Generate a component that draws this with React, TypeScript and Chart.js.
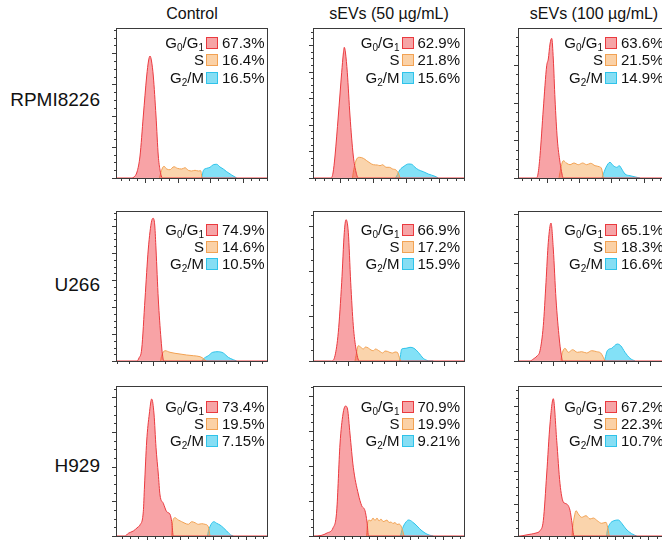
import React, { useEffect, useRef } from 'react';
import { Chart, registerables } from 'chart.js';

Chart.register(...registerables);

type Pt = [number, number];

// ---------- text ----------
const columnTitles = ['Control', 'sEVs (50 µg/mL)', 'sEVs (100 µg/mL)'];
const rowLabels = ['RPMI8226', 'U266', 'H929'];

// ---------- percentages (G0/G1, S, G2/M) ----------
const rpmiPct = [[67.3, 16.4, 16.5], [62.9, 21.8, 15.6], [63.6, 21.5, 14.9]];
const u266Pct = [[74.9, 14.6, 10.5], [66.9, 17.2, 15.9], [65.1, 18.3, 16.6]];
const h929Pct = [[73.4, 19.5, 7.15], [70.9, 19.9, 9.21], [67.2, 22.3, 10.7]];

// ---------- histogram curves [DNA channel, count] ----------
// RPMI8226
const rpmiControlG1: Pt[] = [[0,0],[16,0],[18,1],[21,6],[24,22],[27.3,62],[30.7,102],[32.5,117],[34,122],[35.5,117],[37.3,102],[40,62],[42.3,22],[44,8],[45.7,1],[47,0],[152,0]];
const rpmiControlS: Pt[] = [[43.5,0],[45,6],[47,11],[48,11.7],[50.7,9],[54,8.3],[56,10],[58,11.3],[61.3,9.7],[65.7,9],[69,10.3],[72.3,7.7],[75.7,7],[79,7.7],[82.3,7],[84.7,7.3],[85.5,3],[86,0]];
const rpmiControlG2M: Pt[] = [[85.5,0],[86.5,4],[87.3,7.3],[90.7,9.7],[94,10.7],[97.3,13.3],[100.7,13.7],[104,11],[107.3,9],[110.7,6.3],[115.7,3],[120.7,0]];

const rpmi50G1: Pt[] = [[0,0],[18,0],[20,5],[22,22],[25.3,62],[28.7,105.7],[30.3,124],[31.3,130.7],[32.5,125],[34.3,105.7],[37,62],[40.3,22],[43,6],[45.3,0],[152,0]];
const rpmi50S: Pt[] = [[39.5,0],[40.3,5.7],[42,14],[43.7,19],[46.3,20.7],[50.3,19.7],[53.7,17.3],[57,15],[60.3,13.3],[64.3,13],[67,12.3],[69.7,13.3],[73,10.7],[76.3,10.7],[79.7,9],[83,8],[85.7,4],[87,0]];
const rpmi50G2M: Pt[] = [[82.5,0],[83.7,2],[87,8.3],[91,11.7],[95.3,14],[98.7,13.7],[102,10.7],[105.3,8.3],[110.3,6.3],[115.3,4],[122,1.7],[125.3,0]];

const rpmi100G1: Pt[] = [[0,0],[18,0],[20,4],[22,22.3],[25.3,69],[28.7,112.3],[30.3,119],[32,134],[33.7,139.7],[35.3,119],[37,79],[39.3,39],[42,15.7],[44,4],[45.3,0],[152,0]];
const rpmi100S: Pt[] = [[41,0],[42,5.7],[45.3,17.3],[48.7,14.7],[52,13.3],[56,15],[60.3,13.3],[64.7,15],[68.7,13.3],[72.7,14.7],[77,12.3],[81.3,11.3],[83.7,9],[85.3,0]];
const rpmi100G2M: Pt[] = [[84,0],[84.7,2],[88,10.7],[92,15.7],[95.3,12.3],[98.7,10.7],[101.3,12.3],[103.7,9],[107,4],[112,2.3],[122,0]];

// U266
const u266ControlG1: Pt[] = [[0,0],[21,0],[23,3],[25.7,12],[29,62],[32.3,112],[35.7,140.3],[37.3,142.7],[38.8,135],[40,112],[42.3,62],[45,22],[46.5,6],[48,0],[152,0]];
const u266ControlS: Pt[] = [[44.5,0],[45.7,5.3],[49,10.3],[54,8.7],[59,7.7],[64,7],[70.7,6],[77.3,5.3],[84,4.3],[88,2],[90,0]];
const u266ControlG2M: Pt[] = [[86,0],[87.3,2],[92.3,5.3],[96.7,8.7],[102.3,9.3],[107.3,8],[112.3,3.7],[117.3,1.3],[120.7,0]];

const u26650G1: Pt[] = [[0,0],[18.7,0],[22,5.3],[25.3,28.7],[28.7,78.7],[31.3,128.7],[33,141.3],[35.3,128.7],[37.7,78.7],[40.3,35.3],[43,12],[46.3,0],[152,0]];
const u26650S: Pt[] = [[42,0],[43,5.3],[45.3,15.3],[47.5,14],[50.3,12],[52.5,14],[55.3,13],[58,11],[60.3,10.3],[62.5,12],[64.3,11.3],[67,9.5],[69.7,8],[72,10],[74.3,9.7],[77,8.5],[79.7,8],[82,9],[84.3,8.7],[86.3,3.7],[87.7,0]];
const u26650G2M: Pt[] = [[86.5,0],[87,2.3],[88.7,12],[93,12.7],[97,13.7],[101,12.7],[105.3,8.7],[110.3,2.7],[115.3,0.3],[120.3,0]];

const u266100G1: Pt[] = [[0,0],[12,0],[15.3,2],[19,5],[22,10.3],[25.3,35.3],[28,78.7],[30.3,118.7],[33,138],[35.3,112],[38,62],[41.3,22],[43,8],[44.7,0],[152,0]];
const u266100S: Pt[] = [[43,0],[43.7,5.3],[47,12.7],[50.3,8.7],[54.7,11.3],[59.3,8.7],[63.7,9.3],[68.7,8],[73.7,10.3],[78.7,9.3],[82.7,8],[85.3,3.7],[87,0]];
const u266100G2M: Pt[] = [[86.3,0],[87,2.3],[89.3,10.3],[93.7,12.7],[99.3,17],[102.7,15.3],[107,8.7],[112,2.7],[117,0]];

// H929
const h929ControlG1: Pt[] = [[0,0],[9,0],[12.3,2.7],[17.3,5],[22,9],[24,11],[27.3,24.3],[28.5,50],[30.7,95],[33.3,122],[35.7,137],[38,122],[40,88.7],[42.3,62],[44,41],[47.3,32.7],[50.7,24.3],[54,21.7],[55.7,14.3],[57.3,0],[152,0]];
const h929ControlS: Pt[] = [[55.7,0],[56.7,14.3],[59,18.3],[62.3,16],[65.7,14.3],[69,12.7],[72.3,11.7],[75.7,14.3],[79,13.3],[82.3,11.7],[85.7,12.3],[89,11.7],[92.3,9.3],[94,0]];
const h929ControlG2M: Pt[] = [[91.5,0],[92.3,4.3],[95.7,12.7],[98,14.3],[100.7,12.7],[104,11],[107.3,8.3],[110.7,5],[114.7,1],[117.3,0]];

const h92950G1: Pt[] = [[0,0],[8,0.5],[14,3],[20,8],[23.7,25],[27,92],[30,122],[32.5,130],[34.5,127],[37,102],[40.3,68.7],[45.3,42],[48.7,30.3],[52,25.3],[54,14],[55.5,0],[152,0]];
const h92950S: Pt[] = [[53.5,0],[54.5,12],[56,16],[58,15],[60,18],[62,15.5],[64,18],[66,15],[68,17],[70,14.5],[72,15],[74,16],[76,13.5],[78,14],[80,12.5],[82,13.5],[84,11.5],[86,12],[88,10],[90,4],[91,0]];
const h92950G2M: Pt[] = [[87.5,0],[89,6],[91,11],[93,14],[95.3,16],[97.5,15.5],[99.5,14],[102,12],[105,9],[108,6],[112,3],[116,1],[120.3,0]];

const h929100G1: Pt[] = [[0,0],[2,0],[8,1],[13.7,2],[18,3],[22,5.3],[25.3,15.3],[28.7,62],[32,112],[35.3,137.3],[38.7,95.7],[42,52.3],[45.3,34],[48.7,32],[52,25.7],[53.7,15.3],[56,0],[152,0]];
const h929100S: Pt[] = [[54,0],[54.7,9],[56.5,20],[58,25.3],[60.3,22],[63.7,18.7],[68,20.3],[72,17],[75.3,18],[79.3,15.3],[83.7,12.7],[88,13.7],[89.3,10.3],[91.3,0]];
const h929100G2M: Pt[] = [[88.5,0],[89.3,5.3],[92,12.3],[96,15.3],[100.3,16],[103.7,12.7],[108,7],[113.7,2.3],[118.7,0]];

// ---------- axis ticks (major tick start / step in data units) ----------
const xMajorStart = [[29, 27, 28.7], [37.3, 35.3, 35.3], [30.7, 30.7, 30.7]];
const xMajorStep = [[32.6, 33, 32.3], [48.3, 48, 48.3], [33.2, 33.2, 33.2]];
const yMajorStep = [[31.2, 26.6, 37.7], [27, 45, 49], [34.7, 35, 32.5]];

const X_MAX = 152;
const Y_MIN = -1;
const Y_MAX = 150;

// ---------- layout ----------
const PANEL_W = 152;
const PANEL_H = 151;
const colLeft = [116, 313, 518];
const rowTop = [28, 211, 386];
const rowLabelCenter = [100, 285, 466];
const legendFirstRow = [14.5, 18, 20];
const legendLabelRight = [88, 86.5, 85];
const PAD = { left: 8, top: 2, right: 2, bottom: 8 };
const FONT = '"Liberation Sans", Arial, Helvetica, sans-serif';

const phaseStyle = [
  { line: '#ea3a3f', fill: 'rgba(240,60,65,0.47)', box: '#f6a4a6' },
  { line: '#f2a253', fill: 'rgba(245,160,70,0.45)', box: '#fbd1a6' },
  { line: '#2fc3ea', fill: 'rgba(30,200,240,0.55)', box: '#86def4' },
];

const curves: Pt[][][][] = [
  [[rpmiControlG1, rpmiControlS, rpmiControlG2M], [rpmi50G1, rpmi50S, rpmi50G2M], [rpmi100G1, rpmi100S, rpmi100G2M]],
  [[u266ControlG1, u266ControlS, u266ControlG2M], [u26650G1, u26650S, u26650G2M], [u266100G1, u266100S, u266100G2M]],
  [[h929ControlG1, h929ControlS, h929ControlG2M], [h92950G1, h92950S, h92950G2M], [h929100G1, h929100S, h929100G2M]],
];
const pcts = [rpmiPct, u266Pct, h929Pct];

function framePlugin(xStart: number, xStep: number, yStep: number) {
  return {
    id: 'frame',
    afterDraw(chart: any) {
      const { ctx, chartArea: a, scales } = chart;
      ctx.save();
      ctx.strokeStyle = '#3a3a3a';
      ctx.lineWidth = 1;
      ctx.strokeRect(a.left + 0.5, a.top + 0.5, a.right - a.left - 1, a.bottom - a.top - 1);
      ctx.beginPath();
      const xm = xStep / 4;
      let first = xStart;
      while (first - xm >= 0) first -= xm;
      for (let i = 0; first + i * xm <= X_MAX; i++) {
        const v = first + i * xm;
        const k = (v - xStart) / xStep;
        const major = Math.abs(k - Math.round(k)) < 1e-6;
        const px = Math.round(scales.x.getPixelForValue(v)) + 0.5;
        if (px <= a.left + 1) continue;
        ctx.moveTo(px, a.bottom);
        ctx.lineTo(px, a.bottom + (major ? 4 : 2));
      }
      const ym = yStep / 4;
      for (let i = 0; i * ym <= Y_MAX; i++) {
        const v = i * ym;
        const major = i % 4 === 0;
        const py = Math.round(scales.y.getPixelForValue(v)) + 0.5;
        ctx.moveTo(a.left, py);
        ctx.lineTo(a.left - (major ? 4 : 2), py);
      }
      ctx.stroke();
      ctx.restore();
    },
  };
}

const subStyle: React.CSSProperties = { fontSize: 10, verticalAlign: '-3px', lineHeight: 0 };

function Panel({ row, col }: { row: number; col: number }) {
  const ref = useRef<HTMLCanvasElement>(null);
  useEffect(() => {
    const series = curves[row][col];
    const chart = new Chart(ref.current!, {
      type: 'line',
      data: {
        datasets: series.map((pts, i) => ({
          data: pts.map(([x, y]) => ({ x, y })),
          borderColor: phaseStyle[i].line,
          backgroundColor: phaseStyle[i].fill,
          borderWidth: 1,
          pointRadius: 0,
          fill: 'origin',
          cubicInterpolationMode: 'monotone' as const,
        })),
      },
      options: {
        animation: false,
        responsive: false,
        maintainAspectRatio: false,
        events: [],
        layout: { padding: PAD },
        plugins: { legend: { display: false }, tooltip: { enabled: false } },
        scales: {
          x: { type: 'linear', min: 0, max: X_MAX, display: false },
          y: { type: 'linear', min: Y_MIN, max: Y_MAX, display: false },
        },
      },
      plugins: [framePlugin(xMajorStart[row][col], xMajorStep[row][col], yMajorStep[row][col])],
    });
    return () => chart.destroy();
  }, [row, col]);

  const left = colLeft[col];
  const top = rowTop[row];
  const w = PANEL_W + PAD.left + PAD.right;
  const h = PANEL_H + PAD.top + PAD.bottom;
  const labels = [
    <>G<sub style={subStyle}>0</sub>/G<sub style={subStyle}>1</sub></>,
    <>S</>,
    <>G<sub style={subStyle}>2</sub>/M</>,
  ];
  const lr = legendLabelRight[col];
  return (
    <>
      <canvas
        ref={ref}
        width={w}
        height={h}
        style={{ position: 'absolute', left: left - PAD.left, top: top - PAD.top, width: w, height: h }}
      />
      {labels.map((lab, i) => (
        <div
          key={i}
          style={{
            position: 'absolute',
            left,
            top: top + legendFirstRow[row] + i * 17.3 - 8.5,
            width: 200,
            height: 17,
            fontSize: 15,
            lineHeight: '17px',
            color: '#111',
            whiteSpace: 'nowrap',
          }}
        >
          <div style={{ position: 'absolute', left: 0, width: lr, textAlign: 'right' }}>{lab}</div>
          <div
            style={{
              position: 'absolute',
              left: lr + 2,
              top: 3,
              width: 12,
              height: 12,
              boxSizing: 'border-box',
              border: `1.5px solid ${phaseStyle[i].line}`,
              background: phaseStyle[i].box,
            }}
          />
          <div style={{ position: 'absolute', left: lr + 18 }}>{pcts[row][col][i].toPrecision(3)}%</div>
        </div>
      ))}
    </>
  );
}

export default function App() {
  return (
    <div
      style={{
        position: 'absolute',
        left: 0,
        top: 0,
        width: 662,
        height: 540,
        overflow: 'hidden',
        background: '#fff',
        fontFamily: FONT,
        color: '#111',
      }}
    >
      {columnTitles.map((t, c) => (
        <div
          key={t}
          style={{
            position: 'absolute',
            left: colLeft[c] - 30,
            width: PANEL_W + 60,
            top: 4,
            textAlign: 'center',
            fontSize: 16,
            lineHeight: '20px',
            whiteSpace: 'nowrap',
          }}
        >
          {t}
        </div>
      ))}
      {rowLabels.map((t, r) => (
        <div
          key={t}
          style={{
            position: 'absolute',
            left: 0,
            width: 100,
            top: rowLabelCenter[r] - 11,
            textAlign: 'right',
            fontSize: 19,
            lineHeight: '22px',
          }}
        >
          {t}
        </div>
      ))}
      {[0, 1, 2].map((r) => [0, 1, 2].map((c) => <Panel key={`${r}-${c}`} row={r} col={c} />))}
    </div>
  );
}
